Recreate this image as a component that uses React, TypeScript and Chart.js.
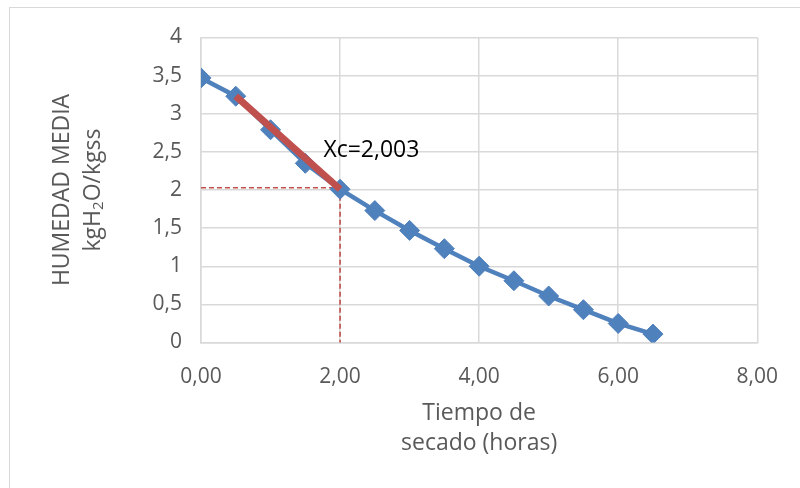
import React, { useEffect, useRef } from "react";
import { Chart, registerables } from "chart.js";

Chart.register(...registerables);

const tiempo = [0, 0.5, 1, 1.5, 2, 2.5, 3, 3.5, 4, 4.5, 5, 5.5, 6, 6.5];
const humedad = [3.47, 3.23, 2.79, 2.35, 2.01, 1.73, 1.47, 1.23, 1.0, 0.81, 0.61, 0.43, 0.25, 0.11];
const ajusteX = [0.5, 2.0];
const ajusteY = [3.23, 2.01];
const guiaHX = [0, 2.0];
const guiaHY = [2.03, 2.03];
const guiaVX = [2.0, 2.0];
const guiaVY = [2.03, 0];
const etiqueta = "Xc=2,003";
const etiquetaPos = { x: 1.76, y: 2.52 };
const tituloX = ["Tiempo de", "secado (horas)"];
const tituloY1 = "HUMEDAD MEDIA";
const tituloY2 = [
  { t: "kgH", sub: false },
  { t: "2", sub: true },
  { t: "O/kgss", sub: false },
];

const FONT = "'Open Sans', sans-serif";
const GRAY = "#595959";

const toPts = (xs: number[], ys: number[]) => xs.map((x, i) => ({ x, y: ys[i] }));

export default function App() {
  const ref = useRef<HTMLCanvasElement | null>(null);

  useEffect(() => {
    if (!ref.current) return;
    const titles = {
      id: "titles",
      afterDraw(chart: any) {
        const ctx = chart.ctx as CanvasRenderingContext2D;
        const ca = chart.chartArea;
        const xs = chart.scales.x;
        const ys = chart.scales.y;
        ctx.save();
        ctx.fillStyle = "#000000";
        ctx.font = `23px ${FONT}`;
        ctx.textAlign = "left";
        ctx.textBaseline = "middle";
        ctx.fillText(etiqueta, xs.getPixelForValue(etiquetaPos.x), ys.getPixelForValue(etiquetaPos.y));
        ctx.fillStyle = GRAY;
        ctx.textAlign = "center";
        const cx = (ca.left + ca.right) / 2;
        ctx.fillText(tituloX[0], cx, 413);
        ctx.fillText(tituloX[1], cx, 443);
        const cy = (ca.top + ca.bottom) / 2;
        ctx.translate(62, cy);
        ctx.rotate(-Math.PI / 2);
        ctx.fillText(tituloY1, 0, 0);
        ctx.restore();
        ctx.save();
        ctx.fillStyle = GRAY;
        ctx.translate(93, cy);
        ctx.rotate(-Math.PI / 2);
        ctx.textBaseline = "middle";
        ctx.textAlign = "left";
        const big = `23px ${FONT}`;
        const small = `15px ${FONT}`;
        let total = 0;
        const widths = tituloY2.map((s) => {
          ctx.font = s.sub ? small : big;
          const w = ctx.measureText(s.t).width;
          total += w;
          return w;
        });
        let px = -total / 2;
        tituloY2.forEach((s, i) => {
          ctx.font = s.sub ? small : big;
          ctx.fillText(s.t, px, s.sub ? 6 : 0);
          px += widths[i];
        });
        ctx.restore();
      },
    };

    const chart = new Chart(ref.current, {
      type: "scatter",
      data: {
        datasets: [
          {
            data: toPts(ajusteX, ajusteY),
            showLine: true,
            borderColor: "#C0504D",
            borderWidth: 7,
            pointRadius: 0,
            order: 0,
          },
          {
            data: toPts(guiaHX, guiaHY),
            showLine: true,
            borderColor: "#C0504D",
            borderWidth: 1.6,
            borderDash: [5, 3],
            pointRadius: 0,
            order: 2,
          },
          {
            data: toPts(guiaVX, guiaVY),
            showLine: true,
            borderColor: "#C0504D",
            borderWidth: 1.6,
            borderDash: [5, 3],
            pointRadius: 0,
            order: 2,
            clip: false as any,
          },
          {
            data: toPts(tiempo, humedad),
            showLine: true,
            borderColor: "#4F81BD",
            backgroundColor: "#4F81BD",
            borderWidth: 4.5,
            pointStyle: "rectRot",
            pointRadius: 10,
            pointBorderWidth: 1,
            pointBorderColor: "#4F81BD",
            pointBackgroundColor: "#4F81BD",
            order: 1,
          },
        ],
      },
      options: {
        responsive: false,
        animation: false,
        layout: { padding: { left: 0, top: 37.5, right: 42.5, bottom: 0 } },
        plugins: { legend: { display: false }, tooltip: { enabled: false } },
        scales: {
          x: {
            type: "linear",
            min: 0,
            max: 8,
            ticks: {
              stepSize: 2,
              padding: 22,
              color: GRAY,
              font: { family: FONT, size: 21 },
              callback: (v: any) => Number(v).toFixed(2).replace(".", ","),
            },
            grid: { color: "#d9d9d9", lineWidth: 1.5, drawTicks: false },
            border: { color: "#d9d9d9", width: 1.5 },
            afterFit: (s: any) => {
              s.height = 145.5;
            },
          },
          y: {
            type: "linear",
            min: 0,
            max: 4,
            ticks: {
              stepSize: 0.5,
              padding: 19,
              color: GRAY,
              font: { family: FONT, size: 21 },
              callback: (v: any) => String(v).replace(".", ","),
            },
            grid: { color: "#d9d9d9", lineWidth: 1.5, drawTicks: false },
            border: { color: "#d9d9d9", width: 1.5 },
            afterFit: (s: any) => {
              s.width = 201;
            },
          },
        },
      },
      plugins: [titles],
    });
    return () => chart.destroy();
  }, []);

  return (
    <div style={{ position: "fixed", left: 0, top: 0, width: 800, height: 488, background: "#fff", overflow: "hidden" }}>
      <div
        style={{
          position: "absolute",
          left: 9,
          top: 7,
          width: 900,
          height: 600,
          borderLeft: "1.5px solid #d9d9d9",
          borderTop: "1.5px solid #d9d9d9",
        }}
      />
      <canvas ref={ref} width={800} height={488} style={{ position: "absolute", left: 0, top: 0, width: 800, height: 488 }} />
    </div>
  );
}
